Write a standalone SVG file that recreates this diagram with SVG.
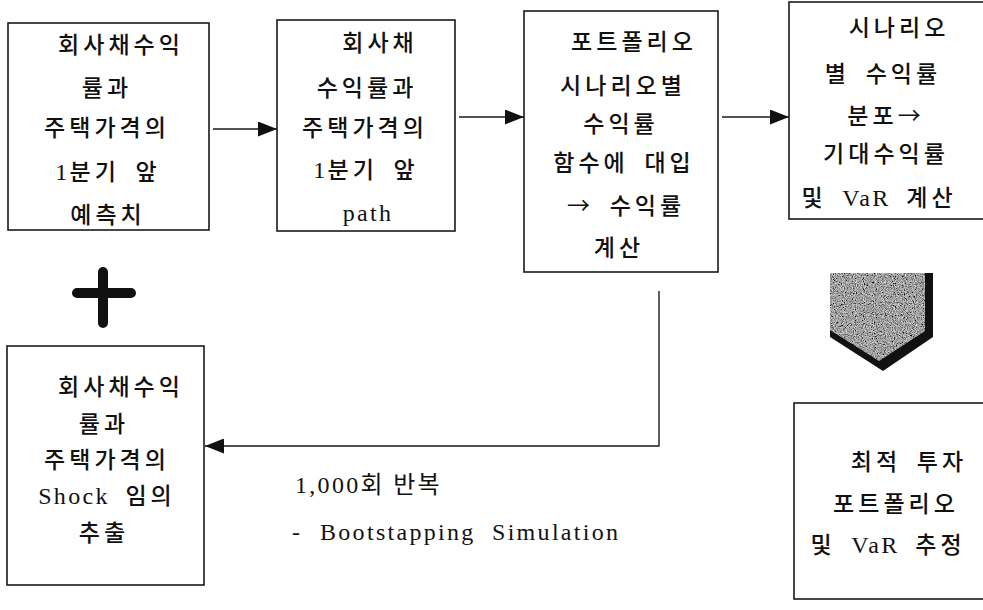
<svg xmlns="http://www.w3.org/2000/svg" width="983" height="610" viewBox="0 0 983 610">
  <style>
    .box { fill: #ffffff; stroke: #1a1a1a; stroke-width: 1.6; }
    .t { font-family: "Liberation Serif", "Noto Sans CJK KR", serif; font-size: 23px; font-weight: 500; fill: #111111; text-anchor: middle; letter-spacing: 4px; word-spacing: 6px; }
    .lat { font-size: 24px; font-weight: 400; letter-spacing: 2.3px; }
    .arr { font-family: "Noto Sans CJK KR", sans-serif; font-weight: 400; }
    .lbl { font-family: "Liberation Serif", "Noto Sans CJK KR", serif; font-size: 24px; fill: #111111; letter-spacing: 2.3px; }
    .conn { fill: none; stroke: #1a1a1a; stroke-width: 1.4; }
  </style>
  <defs>
    <marker id="ah" viewBox="0 0 19 15" refX="19" refY="7.5" markerWidth="19" markerHeight="15" markerUnits="userSpaceOnUse" orient="auto">
      <path d="M0,0 L19,7.5 L0,15 Z" fill="#111111"/>
    </marker>
    <filter id="grain" x="0" y="0" width="100%" height="100%">
      <feTurbulence type="fractalNoise" baseFrequency="0.9" numOctaves="2" seed="4" result="noise"/>
      <feColorMatrix in="noise" type="matrix" values="1.3 0 0 0 -0.3  1.3 0 0 0 -0.3  1.3 0 0 0 -0.3  0 0 0 0 1" result="gray"/>
      <feComposite in="gray" in2="SourceAlpha" operator="in"/>
    </filter>
  </defs>

  <rect width="983" height="610" fill="#ffffff"/>

  <g id="connectors">
    <line class="conn" x1="213" y1="129" x2="277" y2="129" marker-end="url(#ah)"/>
    <line class="conn" x1="459" y1="117" x2="524" y2="117" marker-end="url(#ah)"/>
    <line class="conn" x1="722" y1="117" x2="789" y2="117" marker-end="url(#ah)"/>
    <path class="conn" d="M659,291 V446 H205" marker-end="url(#ah)"/>
  </g>

  <g id="node-forecast">
    <rect class="box" x="8" y="23" width="201" height="207"/>
    <text class="t" x="121" y="53">회사채수익</text>
    <text class="t" x="107" y="96">률과</text>
    <text class="t" x="107" y="136">주택가격의</text>
    <text class="t" x="108" y="180"><tspan class="lat">1</tspan>분기 앞</text>
    <text class="t" x="108" y="223">예측치</text>
  </g>

  <g id="node-path">
    <rect class="box" x="277" y="20" width="178" height="211"/>
    <text class="t" x="380" y="51">회사채</text>
    <text class="t" x="367" y="96">수익률과</text>
    <text class="t" x="365" y="136">주택가격의</text>
    <text class="t" x="366" y="178"><tspan class="lat">1</tspan>분기 앞</text>
    <text class="t" x="368" y="221"><tspan class="lat">path</tspan></text>
  </g>

  <g id="node-portfolio">
    <rect class="box" x="524" y="11" width="194" height="261"/>
    <text class="t" x="634" y="50">포트폴리오</text>
    <text class="t" x="623" y="94">시나리오별</text>
    <text class="t" x="621" y="132">수익률</text>
    <text class="t" x="624" y="171">함수에 대입</text>
    <text class="t" x="626" y="214"><tspan class="arr">→</tspan> 수익률</text>
    <text class="t" x="619" y="256">계산</text>
  </g>

  <g id="node-distribution">
    <rect class="box" x="789" y="2" width="205" height="217"/>
    <text class="t" x="899" y="36">시나리오</text>
    <text class="t" x="883" y="82">별 수익률</text>
    <text class="t" x="886" y="124">분포<tspan class="arr">→</tspan></text>
    <text class="t" x="886" y="162">기대수익률</text>
    <text class="t" x="879" y="206">및 <tspan class="lat">VaR</tspan> 계산</text>
  </g>

  <g id="plus">
    <path d="M103,272 V323 M77,293 H131" fill="none" stroke="#111111" stroke-width="10" stroke-linecap="round"/>
  </g>

  <g id="node-shock">
    <rect class="box" x="7" y="346" width="197" height="239"/>
    <text class="t" x="121" y="395">회사채수익</text>
    <text class="t" x="104" y="432">률과</text>
    <text class="t" x="107" y="468">주택가격의</text>
    <text class="t" x="107" y="504"><tspan class="lat">Shock</tspan> 임의</text>
    <text class="t" x="104" y="541">추출</text>
  </g>

  <g id="loop-label">
    <text class="lbl" x="295" y="493">1,000회 반복</text>
    <text class="lbl" x="292" y="540">-<tspan x="320">Bootstapping</tspan><tspan x="492">Simulation</tspan></text>
  </g>

  <g id="down-arrow">
    <polygon points="830,273 933,273 933,337 883,371 830,337" fill="#111111"/>
    <polygon points="830,273 925,273 925,331 879,361 830,330" fill="#777777" filter="url(#grain)"/>
  </g>

  <g id="node-optimal">
    <rect class="box" x="794" y="403" width="200" height="196"/>
    <text class="t" x="909" y="470">최적 투자</text>
    <text class="t" x="896" y="512">포트폴리오</text>
    <text class="t" x="888" y="553">및 <tspan class="lat">VaR</tspan> 추정</text>
  </g>
</svg>
